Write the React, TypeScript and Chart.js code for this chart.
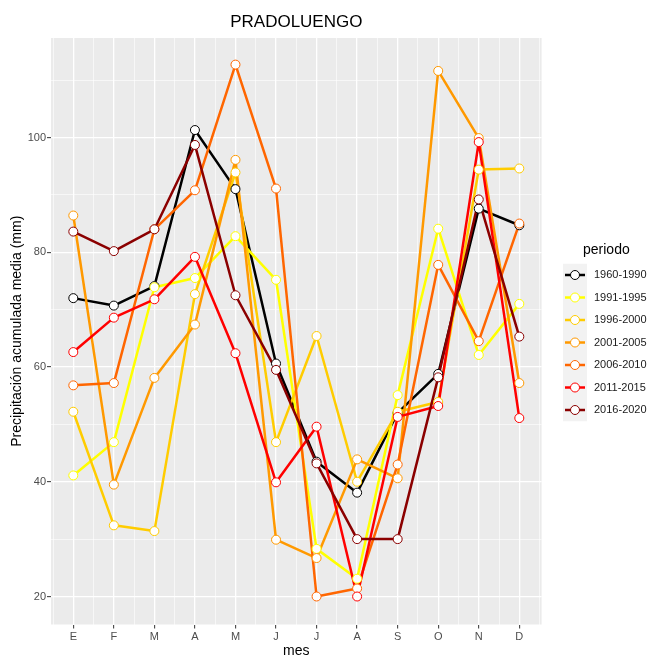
import React, { useEffect, useRef } from 'react';
import { Chart, registerables } from 'chart.js';

Chart.register(...registerables);

const months = ['E', 'F', 'M', 'A', 'M', 'J', 'J', 'A', 'S', 'O', 'N', 'D'];
const periods = ['1960-1990', '1991-1995', '1996-2000', '2001-2005', '2006-2010', '2011-2015', '2016-2020'];
const colors = ['#000000', '#FFFF00', '#FFCC00', '#FF9900', '#FF6600', '#FF0000', '#8B0000'];

const p1960 = [72.0, 70.7, 74.1, 101.3, 91.0, 60.6, 43.5, 38.1, 52.0, 58.8, 87.6, 84.7];
const p1991 = [41.1, 46.9, 73.9, 75.5, 82.8, 75.2, 28.3, 23.1, 55.1, 84.1, 62.1, 71.0];
const p1996 = [52.2, 32.4, 31.4, 72.7, 93.9, 46.9, 65.4, 40.0, 52.2, 53.9, 94.4, 94.6];
const p2001 = [86.4, 39.5, 58.1, 67.4, 96.1, 29.9, 26.7, 43.9, 40.6, 111.6, 99.9, 57.2];
const p2006 = [56.8, 57.2, 84.0, 90.8, 112.7, 91.1, 20.0, 21.4, 43.0, 77.8, 64.5, 85.0];
const p2011 = [62.6, 68.6, 71.8, 79.2, 62.4, 39.9, 49.6, 20.0, 51.3, 53.2, 99.2, 51.1];
const p2016 = [83.6, 80.2, 84.0, 98.7, 72.5, 59.5, 43.2, 30.0, 30.0, 58.2, 89.2, 65.3];

const yTicks = [20, 30, 40, 50, 60, 70, 80, 90, 100, 110];
const yLabels = [20, 40, 60, 80, 100];
const xTicks = [0.5, 1, 1.5, 2, 2.5, 3, 3.5, 4, 4.5, 5, 5.5, 6, 6.5, 7, 7.5, 8, 8.5, 9, 9.5, 10, 10.5, 11, 11.5, 12, 12.5];

const FONT = "'Liberation Sans', Arial, Helvetica, sans-serif";

export default function App() {
  const ref = useRef<HTMLCanvasElement>(null);

  useEffect(() => {
    const canvas = ref.current;
    if (!canvas) return;
    const series = [p1960, p1991, p1996, p2001, p2006, p2011, p2016];

    const lineSets = series.map((s, i) => ({
      label: periods[i] + ' line',
      data: s.map((v, j) => ({ x: j + 1, y: v })),
      borderColor: colors[i],
      borderWidth: 2.5,
      borderJoinStyle: 'round' as const,
      pointRadius: 0,
      pointHoverRadius: 0,
      fill: false,
      tension: 0,
      order: 30 - i,
    }));
    const pointSets = series.map((s, i) => ({
      label: periods[i],
      data: s.map((v, j) => ({ x: j + 1, y: v })),
      showLine: false,
      borderColor: colors[i],
      backgroundColor: '#FFFFFF',
      pointRadius: 4.5,
      pointBorderWidth: 1,
      pointBackgroundColor: '#FFFFFF',
      pointBorderColor: colors[i],
      order: 10 - i,
    }));

    const decor = {
      id: 'decor',
      beforeDraw(chart: any) {
        const { ctx, chartArea } = chart;
        ctx.save();
        ctx.fillStyle = '#FFFFFF';
        ctx.fillRect(0, 0, chart.width, chart.height);
        ctx.fillStyle = '#EBEBEB';
        ctx.fillRect(chartArea.left, chartArea.top, chartArea.right - chartArea.left, chartArea.bottom - chartArea.top);
        ctx.restore();
      },
      afterDraw(chart: any) {
        const { ctx, chartArea } = chart;
        const cx = (chartArea.left + chartArea.right) / 2;
        const cy = (chartArea.top + chartArea.bottom) / 2;
        ctx.save();
        ctx.fillStyle = '#000000';
        ctx.textAlign = 'center';
        ctx.textBaseline = 'middle';
        ctx.font = `17px ${FONT}`;
        ctx.fillText('PRADOLUENGO', cx, 22);
        ctx.font = `14px ${FONT}`;
        ctx.fillText('mes', cx, 651);
        ctx.save();
        ctx.translate(17, cy);
        ctx.rotate(-Math.PI / 2);
        ctx.fillText('Precipitación acumulada media (mm)', 0, 0);
        ctx.restore();

        // legend
        ctx.textAlign = 'left';
        ctx.font = `14px ${FONT}`;
        ctx.fillText('periodo', 583, 250);
        const keyH = 22.5;
        const top = 275 - keyH / 2;
        ctx.fillStyle = '#F2F2F2';
        ctx.fillRect(563, top, 24, keyH * periods.length);
        ctx.font = `11px ${FONT}`;
        periods.forEach((p, i) => {
          const y = 275 + i * keyH;
          ctx.strokeStyle = colors[i];
          ctx.lineWidth = 2.5;
          ctx.beginPath();
          ctx.moveTo(565, y);
          ctx.lineTo(585, y);
          ctx.stroke();
          ctx.beginPath();
          ctx.arc(575, y, 4.5, 0, Math.PI * 2);
          ctx.fillStyle = '#FFFFFF';
          ctx.fill();
          ctx.lineWidth = 1;
          ctx.stroke();
          ctx.fillStyle = '#1A1A1A';
          ctx.fillText(p, 594, y);
        });
        ctx.restore();
      },
    };

    const chart = new Chart(canvas, {
      type: 'line',
      data: { datasets: [...lineSets, ...pointSets] as any },
      options: {
        responsive: false,
        animation: false,
        events: [],
        layout: { padding: { left: 0, right: 107.4, top: 38, bottom: 0 } },
        plugins: {
          legend: { display: false },
          title: { display: false },
          tooltip: { enabled: false },
        },
        scales: {
          x: {
            type: 'linear',
            min: 0.45,
            max: 12.55,
            afterBuildTicks: (s: any) => {
              s.ticks = xTicks.map((v) => ({ value: v }));
            },
            afterFit: (s: any) => {
              s.height = 32.5;
            },
            border: { display: false },
            grid: {
              color: '#FFFFFF',
              lineWidth: (c: any) => (Number.isInteger(c.tick?.value) ? 1.3 : 0.6),
              tickLength: 4,
              tickWidth: 1,
              tickColor: (c: any) => (Number.isInteger(c.tick?.value) ? '#333333' : 'rgba(0,0,0,0)'),
            },
            ticks: {
              autoSkip: false,
              maxRotation: 0,
              minRotation: 0,
              padding: 2,
              color: '#4D4D4D',
              font: { size: 11, family: FONT },
              callback: (v: any) => (Number.isInteger(v) ? months[v - 1] : ''),
            },
          },
          y: {
            type: 'linear',
            min: 15.12,
            max: 117.34,
            afterBuildTicks: (s: any) => {
              s.ticks = yTicks.map((v) => ({ value: v }));
            },
            afterFit: (s: any) => {
              s.width = 51;
            },
            border: { display: false },
            grid: {
              color: '#FFFFFF',
              lineWidth: (c: any) => (yLabels.includes(c.tick?.value) ? 1.3 : 0.6),
              tickLength: 4,
              tickWidth: 1,
              tickColor: (c: any) => (yLabels.includes(c.tick?.value) ? '#333333' : 'rgba(0,0,0,0)'),
            },
            ticks: {
              autoSkip: false,
              padding: 1,
              color: '#4D4D4D',
              font: { size: 11, family: FONT },
              callback: (v: any) => (yLabels.includes(v) ? String(v) : ''),
            },
          },
        },
      },
      plugins: [decor],
    });

    return () => {
      chart.destroy();
    };
  }, []);

  return (
    <div style={{ position: 'fixed', left: 0, top: 0, width: 649, height: 657, background: '#FFFFFF' }}>
      <canvas ref={ref} width={649} height={657} style={{ display: 'block', width: 649, height: 657 }} />
    </div>
  );
}
